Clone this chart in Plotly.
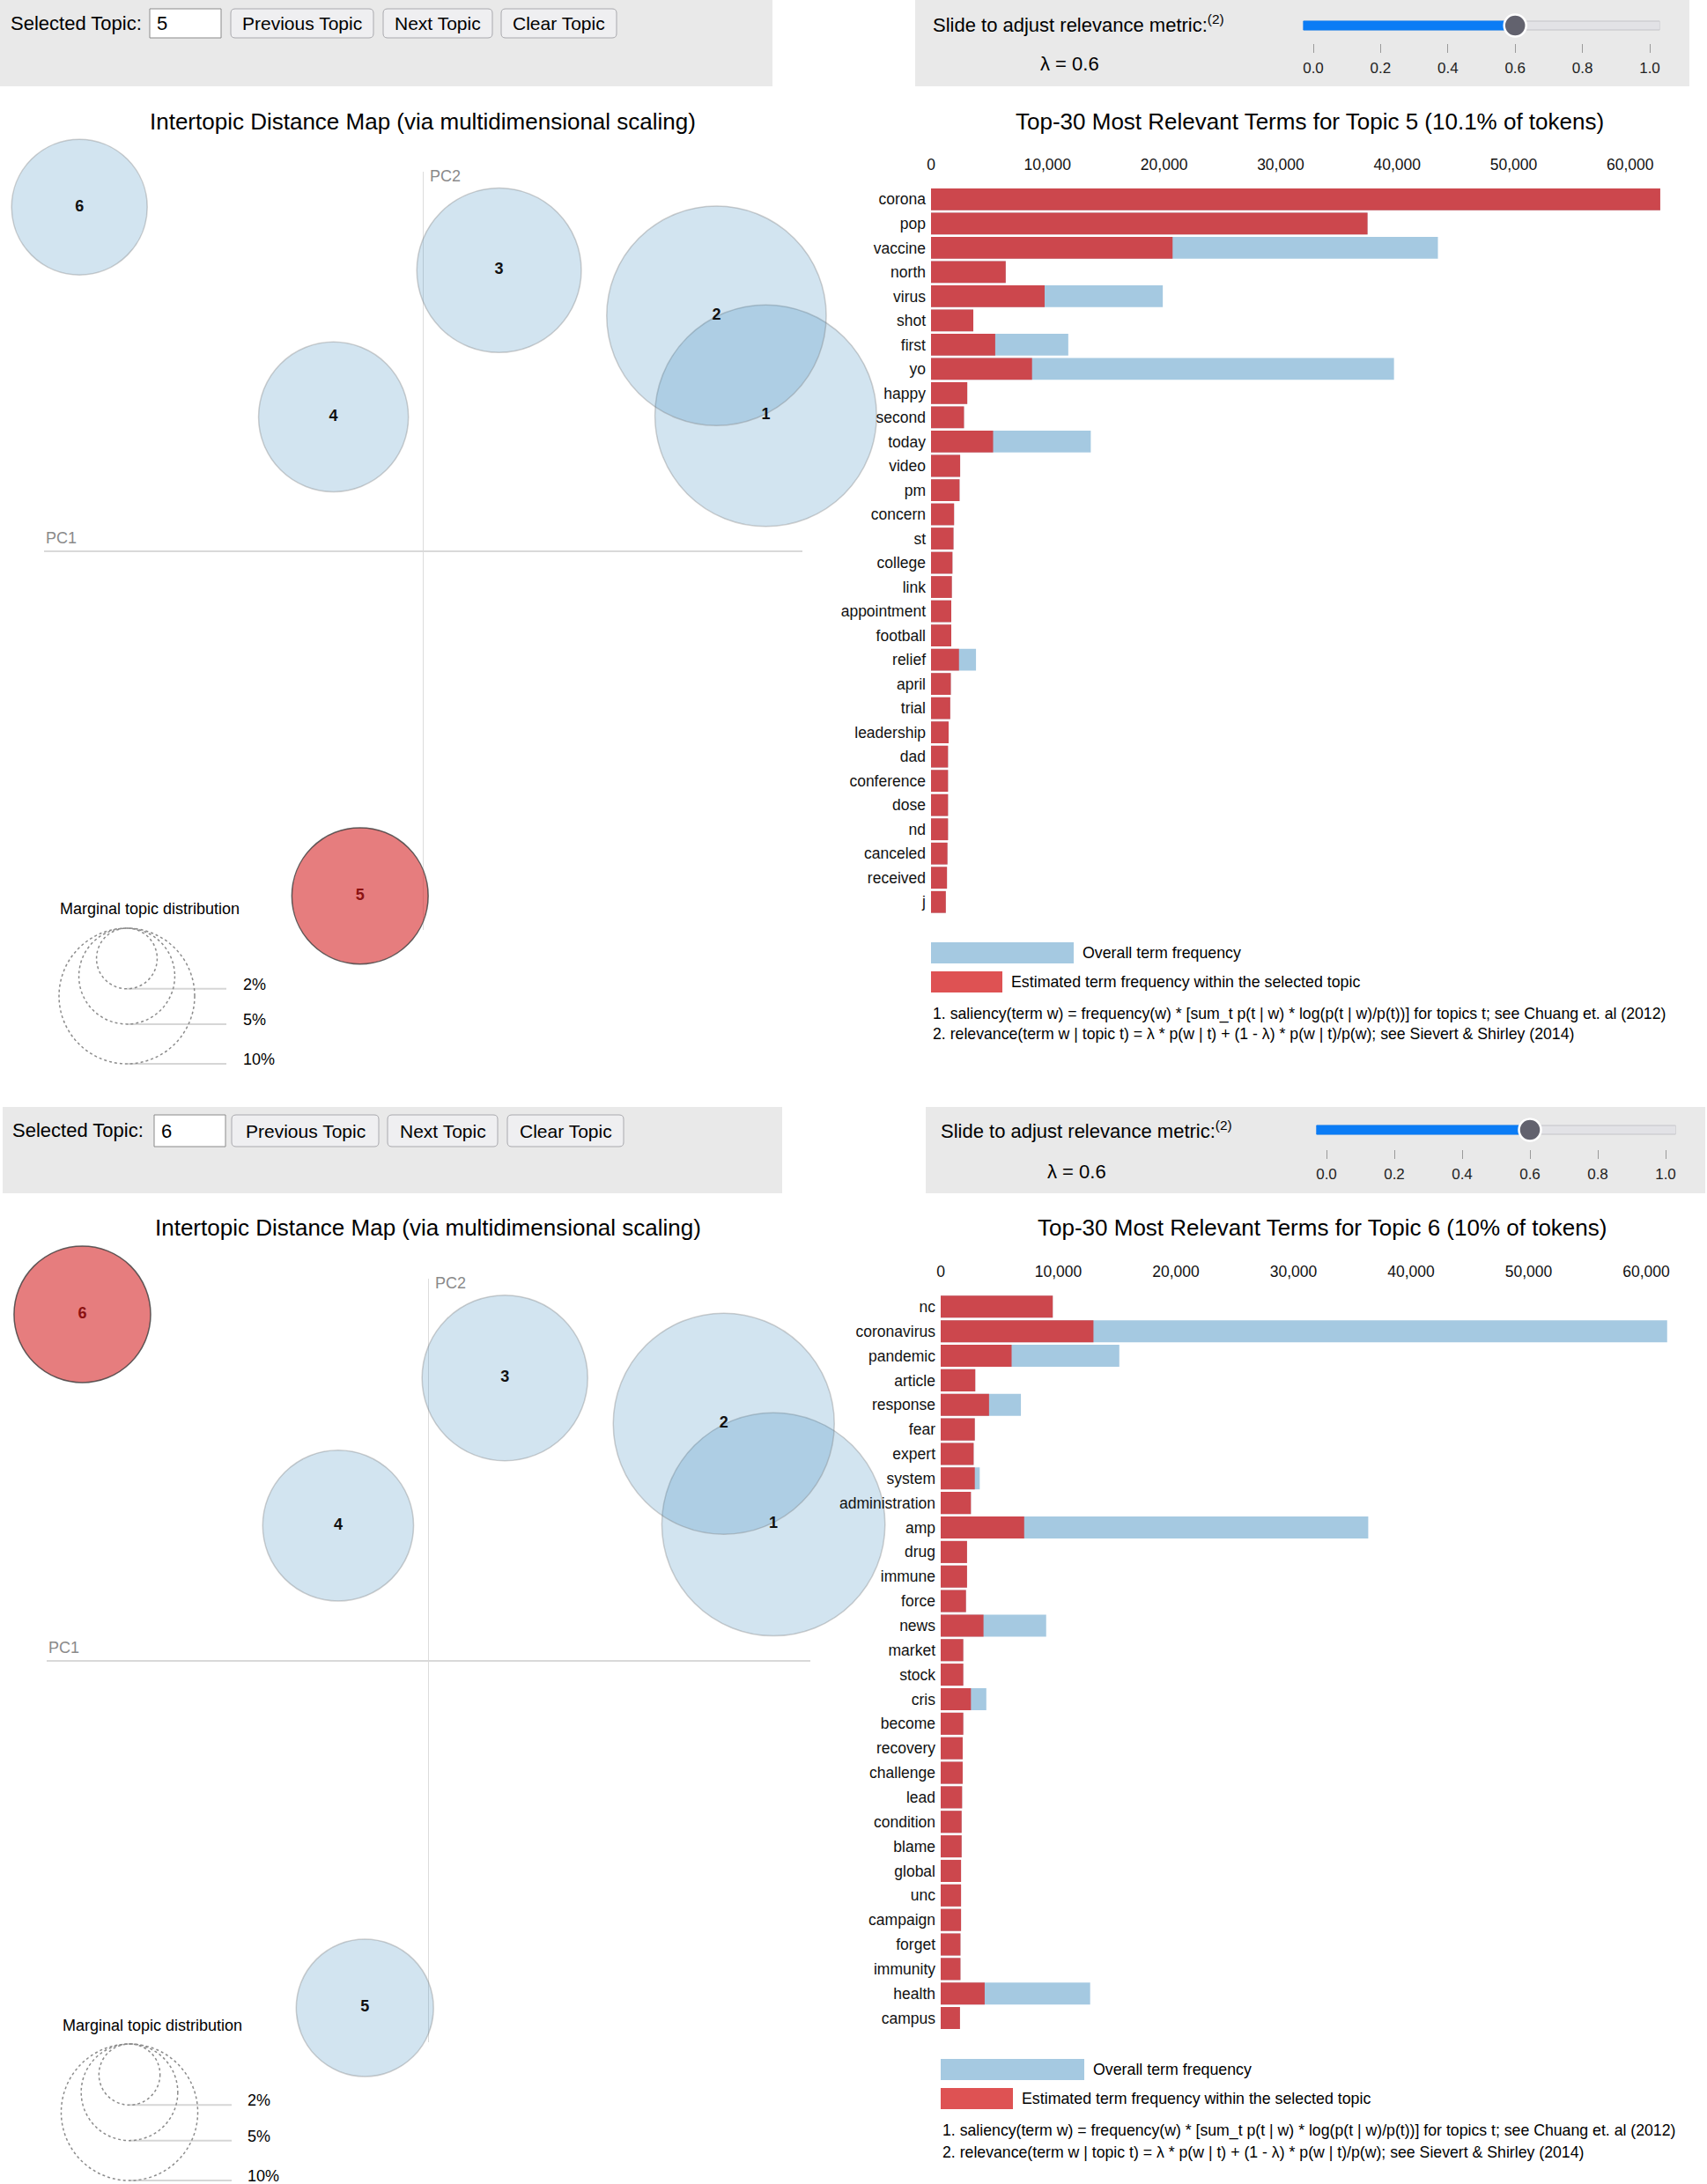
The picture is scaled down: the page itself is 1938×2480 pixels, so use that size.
import math
import plotly.graph_objects as go

W, H = 1938, 2480
FONT = "Liberation Sans, Arial, Helvetica, sans-serif"

# ---------------- data ----------------
topic_ids = [1, 2, 3, 4, 5, 6]
topic_pc1 = [0.271, 0.232, 0.060, -0.071, -0.050, -0.272]
topic_pc2 = [0.107, 0.186, 0.222, 0.106, -0.273, 0.272]
topic_pct = [26.7, 26.2, 14.7, 12.2, 10.1, 10.0]

legend_pcts = [2, 5, 10]
legend_labels = ["2%", "5%", "10%"]

lambda_value = 0.6
slider_ticks = [0.0, 0.2, 0.4, 0.6, 0.8, 1.0]
slider_tick_labels = ["0.0", "0.2", "0.4", "0.6", "0.8", "1.0"]

freq_ticks = [0, 10000, 20000, 30000, 40000, 50000, 60000]
freq_tick_labels = ["0", "10,000", "20,000", "30,000", "40,000", "50,000", "60,000"]

terms_t5 = ["corona", "pop", "vaccine", "north", "virus", "shot", "first", "yo", "happy", "second",
            "today", "video", "pm", "concern", "st", "college", "link", "appointment", "football", "relief",
            "april", "trial", "leadership", "dad", "conference", "dose", "nd", "canceled", "received", "j"]
freq_t5 = [62580, 37460, 20730, 6410, 9750, 3630, 5510, 8670, 3110, 2830,
           5330, 2500, 2450, 1980, 1930, 1840, 1790, 1740, 1740, 2400,
           1700, 1650, 1510, 1460, 1460, 1460, 1460, 1410, 1370, 1270]
total_t5 = [62580, 37460, 43500, 6410, 19890, 3630, 11780, 39730, 3110, 2830,
            13710, 2500, 2450, 1980, 1930, 1840, 1790, 1740, 1740, 3860,
            1700, 1650, 1510, 1460, 1460, 1460, 1460, 1410, 1370, 1270]

terms_t6 = ["nc", "coronavirus", "pandemic", "article", "response", "fear", "expert", "system", "administration", "amp",
            "drug", "immune", "force", "news", "market", "stock", "cris", "become", "recovery", "challenge",
            "lead", "condition", "blame", "global", "unc", "campaign", "forget", "immunity", "health", "campus"]
freq_t6 = [9530, 12990, 6030, 2940, 4110, 2900, 2800, 2900, 2570, 7100,
           2240, 2240, 2150, 3640, 1920, 1920, 2570, 1920, 1870, 1870,
           1820, 1780, 1780, 1730, 1730, 1730, 1680, 1680, 3740, 1640]
total_t6 = [9530, 61780, 15190, 2940, 6820, 2900, 2800, 3320, 2570, 36360,
            2240, 2240, 2150, 8970, 1920, 1920, 3880, 1920, 1870, 1870,
            1820, 1780, 1780, 1730, 1730, 1730, 1680, 1680, 12710, 1640]

# ---------------- styles ----------------
BLUE_CIRCLE = "rgba(31,119,180,0.2)"
BLUE_EDGE = "rgba(120,120,120,0.35)"
RED_CIRCLE = "rgba(214,39,40,0.6)"
RED_EDGE = "rgba(60,60,60,0.8)"
BAR_TOTAL = "rgba(31,119,180,0.4)"
BAR_FREQ = "rgba(214,39,40,0.8)"
PANEL_BG = "#e9e9e9"
RADIUS_FRAC = 0.02828  # circle radius per sqrt(% tokens), relative to map width
MAP_RANGE = [-0.3, 0.3]
BAR_MAX = 64000
SLIDER_PAD = 0.03  # track overhang beyond 0 and 1

shapes, annotations = [], []
layout_axes = {}
fig = go.Figure()


def fx(x):
    return x / W


def fy(y):
    return 1 - y / H


def add_rect(x0, y0, x1, y1, fill, line="rgba(0,0,0,0)", lw=0, layer="below"):
    shapes.append(dict(type="rect", xref="paper", yref="paper", x0=fx(x0), x1=fx(x1),
                       y0=fy(y1), y1=fy(y0), fillcolor=fill, line=dict(color=line, width=lw), layer=layer))


def add_rrect(x0, y0, x1, y1, r, fill, line, lw):
    a, b, c, d = fx(x0), fx(x1), fy(y0), fy(y1)
    rx, ry = r / W, r / H
    path = (f"M {a+rx},{c} L {b-rx},{c} Q {b},{c} {b},{c-ry} L {b},{d+ry} Q {b},{d} {b-rx},{d} "
            f"L {a+rx},{d} Q {a},{d} {a},{d+ry} L {a},{c-ry} Q {a},{c} {a+rx},{c} Z")
    shapes.append(dict(type="path", xref="paper", yref="paper", path=path, fillcolor=fill,
                       line=dict(color=line, width=lw), layer="below"))


def add_text(x, y, s, size=18, color="#000", xanchor="left", yanchor="middle"):
    annotations.append(dict(x=fx(x), y=fy(y), xref="paper", yref="paper", text=s, showarrow=False,
                            xanchor=xanchor, yanchor=yanchor,
                            font=dict(size=size, color=color, family=FONT)))


def ax_name(kind, n):
    return f"{kind}axis" if n == 1 else f"{kind}axis{n}"


def ax_ref(kind, n):
    return kind if n == 1 else f"{kind}{n}"


panels = [
    dict(selected=5, terms=terms_t5, freq=freq_t5, total=total_t5,
         ctrl_left=(0, 0, 877, 98), ctrl_right=(1039, 0, 1918, 98),
         sel_label=(10, 27), input_box=(170, 10, 251, 43),
         buttons=[(262, 10, 424, 43), (435, 10, 559, 43), (569, 10, 700, 43)],
         slider_label=(1057, 27), slider_dom=(1491, 1873), slider_tick_y=49,
         track_y=29, lambda_pos=(1214, 72),
         title_left=(480, 138), title_right=(1487, 138),
         map_x=(50, 911), map_y=(195, 1056),
         marg_text=(66, 1032), marg_cx=144, marg_top=1054, marg_line_end=257, marg_label_x=274,
         bar_x=(1057, 132.3), bar_y=(212.6, 1038.0),
         leg_blue=(1057, 1070, 1219, 1094), leg_red=(1057, 1103, 1138, 1127),
         foot_x=1057, foot_y=(1151, 1174)),
    dict(selected=6, terms=terms_t6, freq=freq_t6, total=total_t6,
         ctrl_left=(3, 1257, 888, 1355), ctrl_right=(1051, 1257, 1936, 1355),
         sel_label=(12, 1283), input_box=(175, 1266, 256, 1302),
         buttons=[(263, 1266, 430, 1302), (440, 1266, 565, 1302), (576, 1266, 708, 1302)],
         slider_label=(1066, 1283), slider_dom=(1506, 1891), slider_tick_y=1305,
         track_y=1283, lambda_pos=(1222, 1330),
         title_left=(486, 1394), title_right=(1501, 1394),
         map_x=(53, 920), map_y=(1452, 2319),
         marg_text=(69, 2300), marg_cx=147, marg_top=2321, marg_line_end=263, marg_label_x=279,
         bar_x=(1068, 133.5), bar_y=(1469.9, 2305.5),
         leg_blue=(1068, 2338, 1231, 2362), leg_red=(1068, 2371, 1150, 2395),
         foot_x=1068, foot_y=(2419, 2444)),
]

button_texts = ["Previous Topic", "Next Topic", "Clear Topic"]

for p_idx, P in enumerate(panels):
    base = 3 * p_idx
    n_map, n_bar, n_sl = base + 1, base + 2, base + 3
    sel = P["selected"]
    sel_pct = topic_pct[topic_ids.index(sel)]

    # ---- control bars ----
    add_rect(*P["ctrl_left"], PANEL_BG)
    add_rect(*P["ctrl_right"], PANEL_BG)
    sx, sy = P["sel_label"]
    add_text(sx, sy, "Selected Topic:", size=22)
    ix0, iy0, ix1, iy1 = P["input_box"]
    add_rect(ix0, iy0, ix1, iy1, "white", "#8a8a8a", 1)
    add_text(ix0 + 6, (iy0 + iy1) / 2, str(sel), size=22)
    for (bx0, by0, bx1, by1), bt in zip(P["buttons"], button_texts):
        add_rrect(bx0, by0, bx1, by1, 5, "#efeff1", "#a9a9ae", 1)
        add_text((bx0 + bx1) / 2, (by0 + by1) / 2, bt, size=21, xanchor="center")
    lx, ly = P["slider_label"]
    add_text(lx, ly, "Slide to adjust relevance metric:<sup>(2)</sup>", size=22)
    lamx, lamy = P["lambda_pos"]
    add_text(lamx, lamy, f"λ = {lambda_value:g}", size=22, xanchor="center")

    # ---- slider (axis-driven) ----
    d0, d1 = P["slider_dom"]
    unit = d1 - d0
    ty = P["track_y"]
    layout_axes[ax_name("x", n_sl)] = dict(
        domain=[fx(d0 - SLIDER_PAD * unit), fx(d1 + SLIDER_PAD * unit)],
        range=[-SLIDER_PAD, 1 + SLIDER_PAD], anchor="free", position=fy(P["slider_tick_y"]),
        side="bottom", tickvals=slider_ticks, ticktext=slider_tick_labels, ticks="outside",
        ticklen=10, tickwidth=1, tickcolor="#9a9a9a", showline=False, showgrid=False, zeroline=False,
        ticklabelstandoff=3,
        tickfont=dict(size=17, color="#222", family=FONT), fixedrange=True)
    layout_axes[ax_name("y", n_sl)] = dict(
        domain=[fy(ty + 14), fy(ty - 14)], range=[-1, 1], visible=False, fixedrange=True)
    xr_sl = ax_ref("x", n_sl)
    shapes.append(dict(type="rect", xref=xr_sl, yref="paper", x0=-SLIDER_PAD, x1=1 + SLIDER_PAD,
                       y0=fy(ty + 5), y1=fy(ty - 5), fillcolor="#e2e2e6",
                       line=dict(color="#c3c3c8", width=1), layer="below"))
    shapes.append(dict(type="rect", xref=xr_sl, yref="paper", x0=-SLIDER_PAD, x1=lambda_value,
                       y0=fy(ty + 5), y1=fy(ty - 5), fillcolor="#0b7cf5",
                       line=dict(color="#0b7cf5", width=1), layer="below"))
    fig.add_trace(go.Scatter(x=[lambda_value], y=[0], xaxis=xr_sl, yaxis=ax_ref("y", n_sl),
                             mode="markers", cliponaxis=False, hoverinfo="skip",
                             marker=dict(size=25, color="#62626e", line=dict(color="white", width=2.5))))

    # ---- titles ----
    tx, tyy = P["title_left"]
    add_text(tx, tyy, "Intertopic Distance Map (via multidimensional scaling)", size=26, xanchor="center")
    tx, tyy = P["title_right"]
    add_text(tx, tyy, f"Top-30 Most Relevant Terms for Topic {sel} ({sel_pct:g}% of tokens)",
             size=26, xanchor="center")

    # ---- intertopic map ----
    mx0, mx1 = P["map_x"]
    my0, my1 = P["map_y"]
    k = (mx1 - mx0) * RADIUS_FRAC
    layout_axes[ax_name("x", n_map)] = dict(
        domain=[fx(mx0), fx(mx1)], range=MAP_RANGE, showgrid=False, showticklabels=False, ticks="",
        zeroline=True, zerolinecolor="#dcdcdc", zerolinewidth=1.2, showline=False,
        anchor=ax_ref("y", n_map), fixedrange=True)
    layout_axes[ax_name("y", n_map)] = dict(
        domain=[fy(my1), fy(my0)], range=MAP_RANGE, showgrid=False, showticklabels=False, ticks="",
        zeroline=True, zerolinecolor="#d9d9d9", zerolinewidth=2.2, showline=False,
        anchor=ax_ref("x", n_map), fixedrange=True)
    xm, ym = ax_ref("x", n_map), ax_ref("y", n_map)
    fills = [RED_CIRCLE if t == sel else BLUE_CIRCLE for t in topic_ids]
    edges = [RED_EDGE if t == sel else BLUE_EDGE for t in topic_ids]
    sizes = [2 * k * math.sqrt(v) for v in topic_pct]
    fig.add_trace(go.Scatter(x=topic_pc1, y=topic_pc2, xaxis=xm, yaxis=ym, mode="markers",
                             cliponaxis=False, hoverinfo="skip",
                             marker=dict(size=sizes, sizemode="diameter", color=fills,
                                         line=dict(color=edges, width=1.5), opacity=1)))
    fig.add_trace(go.Scatter(x=topic_pc1, y=topic_pc2, xaxis=xm, yaxis=ym, mode="text",
                             cliponaxis=False, hoverinfo="skip",
                             text=[f"<b>{t}</b>" for t in topic_ids],
                             textfont=dict(size=18, family=FONT,
                                           color=["#8b1212" if t == sel else "#111" for t in topic_ids])))
    annotations.append(dict(x=MAP_RANGE[0], y=0, xref=xm, yref=ym, text="PC1", showarrow=False,
                            xanchor="left", yanchor="bottom", yshift=3,
                            font=dict(size=18, color="#8a8a8a", family=FONT)))
    annotations.append(dict(x=0, y=MAP_RANGE[1], xref=xm, yref=ym, text="PC2", showarrow=False,
                            xanchor="left", yanchor="middle", xshift=5, yshift=-5,
                            font=dict(size=18, color="#8a8a8a", family=FONT)))

    # marginal topic distribution legend
    mtx, mty = P["marg_text"]
    add_text(mtx, mty, "Marginal topic distribution", size=18)
    cx, top = P["marg_cx"], P["marg_top"]
    for pct, lab in zip(legend_pcts, legend_labels):
        r = k * math.sqrt(pct)
        shapes.append(dict(type="circle", xref="paper", yref="paper", xsizemode="pixel",
                           ysizemode="pixel", xanchor=fx(cx), yanchor=fy(top),
                           x0=-r, x1=r, y0=-2 * r, y1=0,
                           line=dict(color="#8c8c8c", width=1.5, dash="dot"), layer="above"))
        shapes.append(dict(type="line", xref="paper", yref="paper", ysizemode="pixel",
                           yanchor=fy(top), x0=fx(cx), x1=fx(P["marg_line_end"]),
                           y0=-2 * r, y1=-2 * r, line=dict(color="#d6d6d6", width=2), layer="below"))
        add_text(P["marg_label_x"], top + 2 * r - 5, lab, size=18)

    # ---- bar chart ----
    bx0, bpx = P["bar_x"]
    by0, by1 = P["bar_y"]
    xb, yb = ax_ref("x", n_bar), ax_ref("y", n_bar)
    layout_axes[ax_name("x", n_bar)] = dict(
        domain=[fx(bx0), fx(bx0 + bpx * BAR_MAX / 10000)], range=[0, BAR_MAX], side="top",
        tickvals=freq_ticks, ticktext=freq_tick_labels, ticks="", showgrid=False, zeroline=False,
        showline=False, anchor=yb, ticklabelstandoff=15,
        tickfont=dict(size=17.5, color="#111", family=FONT), fixedrange=True)
    layout_axes[ax_name("y", n_bar)] = dict(
        domain=[fy(by1), fy(by0)], type="category", categoryorder="array",
        categoryarray=P["terms"], autorange="reversed", ticks="", showgrid=False, zeroline=False,
        showline=False, anchor=xb, ticklabelstandoff=5,
        tickfont=dict(size=17.5, color="#111", family=FONT), fixedrange=True)
    fig.add_trace(go.Bar(y=P["terms"], x=P["total"], orientation="h", xaxis=xb, yaxis=yb,
                         marker=dict(color=BAR_TOTAL, line=dict(width=0)), hoverinfo="skip"))
    fig.add_trace(go.Bar(y=P["terms"], x=P["freq"], orientation="h", xaxis=xb, yaxis=yb,
                         marker=dict(color=BAR_FREQ, line=dict(width=0)), hoverinfo="skip"))

    # bar legend + footnotes
    lb = P["leg_blue"]
    add_rect(*lb, "#a5c9e1")
    add_text(lb[2] + 8, (lb[1] + lb[3]) / 2, "Overall term frequency", size=17.8)
    lr = P["leg_red"]
    add_rect(*lr, "#de5253")
    add_text(lr[2] + 8, (lr[1] + lr[3]) / 2, "Estimated term frequency within the selected topic", size=17.8)
    fy1, fy2 = P["foot_y"]
    add_text(P["foot_x"], fy1,
             "1. saliency(term w) = frequency(w) * [sum_t p(t | w) * log(p(t | w)/p(t))] for topics t; "
             "see Chuang et. al (2012)", size=17.7)
    add_text(P["foot_x"], fy2,
             "2. relevance(term w | topic t) = λ * p(w | t) + (1 - λ) * p(w | t)/p(w); "
             "see Sievert &amp; Shirley (2014)", size=17.7)

fig.update_layout(
    width=W, height=H, margin=dict(l=0, r=0, t=0, b=0, pad=0, autoexpand=False),
    paper_bgcolor="white", plot_bgcolor="white", showlegend=False,
    barmode="overlay", bargap=0.1, hovermode=False,
    font=dict(family=FONT, color="#111"),
    shapes=shapes, annotations=annotations, **layout_axes)

fig.write_html("out.html")
